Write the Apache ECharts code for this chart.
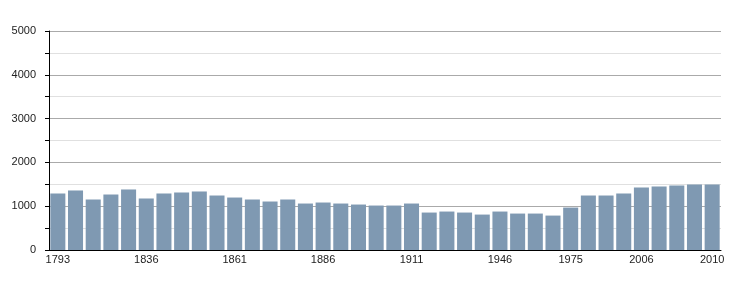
<!DOCTYPE html>
<html><head><meta charset="utf-8">
<script src="https://cdn.jsdelivr.net/npm/echarts@6/dist/echarts.min.js"></script>
<style>html,body{margin:0;padding:0;background:#fff}#c{width:750px;height:300px}</style>
</head><body><div id="c"></div>
<script>
const years = ['1793','1800','1806','1821','1831','1836','1841','1846','1851','1856','1861','1866','1872','1876','1881','1886','1891','1896','1901','1906','1911','1921','1926','1931','1936','1946','1954','1962','1968','1975','1982','1990','1999','2006','2007','2008','2009','2010'];
const population = [1290,1359,1153,1267,1382,1176,1290,1313,1336,1244,1198,1153,1107,1153,1061,1084,1061,1038,1015,1015,1061,855,878,855,809,878,832,832,786,969,1244,1244,1290,1427,1450,1473,1496,1496];
const shownLabels = ['1793','1836','1861','1886','1911','1946','1975','2006','2010'];
const yTicks = [0,1000,2000,3000,4000,5000];

const chart = echarts.init(document.getElementById('c'), null, {renderer:'canvas'});
chart.setOption({
  animation:false,
  grid:{left:49,right:29,top:31,bottom:50,containLabel:false},
  xAxis:{
    type:'category', data:years,
    axisLine:{lineStyle:{color:'#000',width:1}},
    axisTick:{show:false},
    axisLabel:{
      interval:(i,v)=>shownLabels.includes(v),
      color:'#222', fontFamily:'Liberation Sans, Arial, sans-serif', fontSize:11, margin:4
    }
  },
  yAxis:{
    type:'value', min:0, max:5000, interval:500,
    axisLine:{show:true,lineStyle:{color:'#000',width:1}},
    axisTick:{show:true,length:4,lineStyle:{color:'#000'}},
    axisLabel:{
      formatter:v=>yTicks.includes(v)?String(v):'',
      color:'#222', fontFamily:'Liberation Sans, Arial, sans-serif', fontSize:11, margin:13
    },
    splitLine:{show:true,lineStyle:{color:['#aaaaaa','#e0e0e0'],width:1}}
  },
  series:[{
    type:'bar', data:population, barCategoryGap:'15%',
    itemStyle:{color:'#7f99b2'}
  }]
});
</script></body></html>
